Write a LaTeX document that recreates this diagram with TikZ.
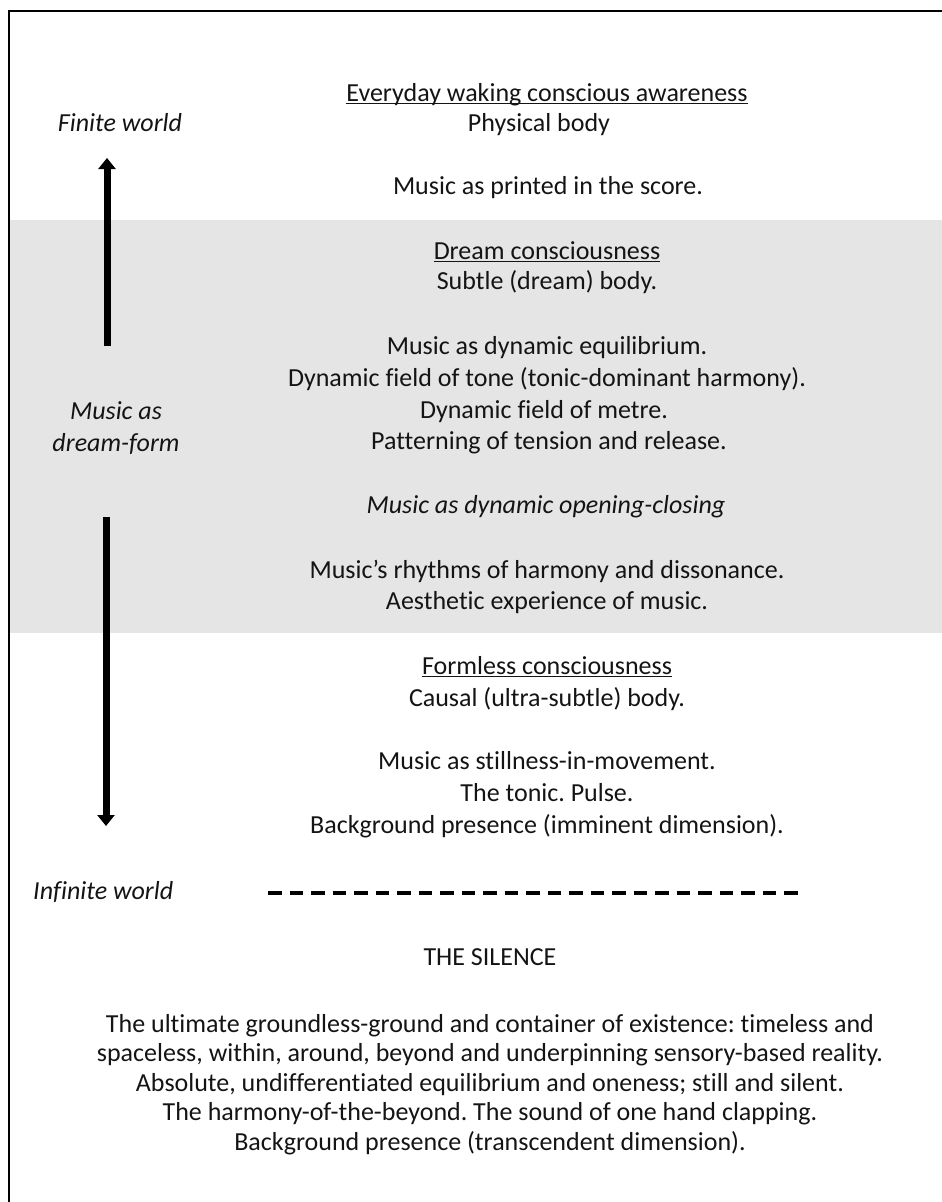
\documentclass[tikz,border=0pt]{standalone}
\usepackage{fontspec}
\setmainfont{Carlito}[Ligatures={NoCommon}]
\usetikzlibrary{arrows.meta}
\definecolor{band}{RGB}{229,229,229}
\definecolor{ink}{RGB}{20,20,20}
\frenchspacing
% underline sitting just below the baseline
\newcommand\baseul[1]{\setbox0\hbox{#1}\rlap{\rule[-3.2pt]{\wd0}{1.6pt}}\box0}
\begin{document}
\begin{tikzpicture}[x=1pt,y=-1pt,
  txt/.style={anchor=base,inner sep=0pt,text=ink,font=\fontsize{26}{31.7}\selectfont},
  side/.style={txt,font=\fontsize{26}{31.7}\selectfont\itshape},
  bigarrow/.style={line width=7pt,-{Triangle[width=17pt,length=11pt]}},
  frame/.style={line width=2pt,black}]
\useasboundingbox (0,0) rectangle (942,1202);

% shaded middle zone
\fill[band] (9,220) rectangle (942,633);
% open frame: top and left edges
\draw[frame] (9,1202) -- (9,11) -- (942,11);

% finite world
\node[txt] (ev)  at (547,101) {\baseul{Everyday waking conscious awareness}};
\node[txt] (pb)  at (539,131) {Physical body};
\node[side] (fw) at (120,131) {Finite world};
\node[txt] (mp)  at (548,194) {Music as printed in the score.};

% dream zone
\node[txt] (dc)  at (547,259) {\baseul{Dream consciousness}};
\node[txt] (sb)  at (547,289) {Subtle (dream) body.};
\node[txt] (md)  at (547,354) {Music as dynamic equilibrium.};
\node[txt] (ft)  at (547,386) {Dynamic field of tone (tonic-dominant harmony).};
\node[txt] (fm)  at (544,418) {Dynamic field of metre.};
\node[txt] (pt)  at (549,449) {Patterning of tension and release.};
\node[side] (ma) at (116,419) {Music as};
\node[side] (df) at (116,451) {dream-form};
\node[side] (oc) at (546,513) {Music as dynamic opening-closing};
\node[txt] (rh)  at (547,578) {Music’s rhythms of harmony and dissonance.};
\node[txt] (ae)  at (547,609) {Aesthetic experience of music.};

% formless zone
\node[txt] (fc)  at (547,674) {\baseul{Formless consciousness}};
\node[txt] (cb)  at (547,706) {Causal (ultra-subtle) body.};
\node[txt] (sm)  at (547,769) {Music as stillness-in-movement.};
\node[txt] (tp)  at (547,801) {The tonic. Pulse.};
\node[txt] (bi)  at (547,833) {Background presence (imminent dimension).};

% infinite world
\node[side,anchor=base west] (iw) at (33,899) {Infinite world};
\coordinate (dl) at (268,893);
\coordinate (dr) at (805,893);
\draw[line width=3.5pt,dash pattern=on 13.5pt off 8pt] (dl) -- (dr);

\node[txt] (si) at (490,965) {THE SILENCE};
\node[txt] (l1) at (490,1032) {The ultimate groundless-ground and container of existence: timeless and};
\node[txt] (l2) at (490,1061.5) {spaceless, within, around, beyond and underpinning sensory-based reality.};
\node[txt] (l3) at (490,1091) {Absolute, undifferentiated equilibrium and oneness; still and silent.};
\node[txt] (l4) at (490,1120.5) {The harmony-of-the-beyond. The sound of one hand clapping.};
\node[txt] (l5) at (490,1150) {Background presence (transcendent dimension).};

% direction arrows
\coordinate (ua) at (107,346);
\coordinate (ub) at (107,158);
\coordinate (da) at (106,517);
\coordinate (db) at (106,826);
\draw[bigarrow] (ua) -- (ub);
\draw[bigarrow] (da) -- (db);
\end{tikzpicture}
\end{document}
